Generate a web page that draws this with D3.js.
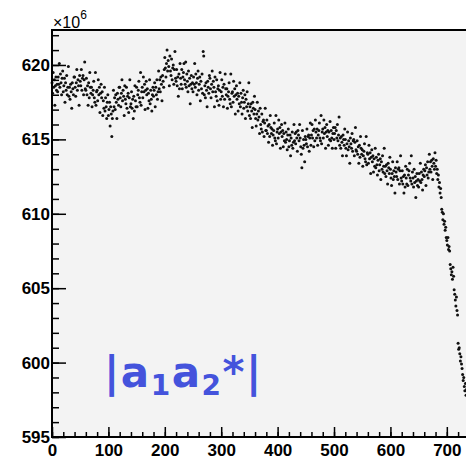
<!DOCTYPE html>
<html>
<head>
<meta charset="utf-8">
<script src="https://cdn.jsdelivr.net/npm/d3@7"></script>
<style>
  html, body { margin: 0; padding: 0; background: #ffffff; overflow: hidden; }
  svg { display: block; }
</style>
</head>
<body>
<script>
// ---- data (y in units of 10^6, one point per x = 0,1,2,...) ----
const yValues = [
  618.8,618.1,619.5,618.5,619.0,617.3,618.6,619.2,618.3,618.7, 618.2,619.2,618.7,620.1,618.5,619.4,618.8,618.0,619.1,619.6,
  618.2,618.6,619.1,617.5,618.8,618.3,619.3,618.0,618.5,619.9, 617.9,618.5,617.7,618.7,618.2,617.1,618.8,618.4,618.0,619.2,
  619.2,618.5,617.9,618.8,619.7,618.3,619.0,618.6,617.3,619.3, 618.9,618.6,619.7,618.3,619.1,619.3,618.0,619.0,620.2,618.4,
  618.3,619.1,618.0,618.6,617.3,618.8,617.8,619.5,618.5,618.1, 618.5,617.2,618.0,618.3,618.9,617.8,617.5,619.5,617.3,618.2,
  618.3,617.6,619.0,618.0,618.5,616.8,618.1,618.7,617.8,618.2, 616.6,617.6,617.1,618.5,616.9,617.8,617.2,616.4,617.5,618.0,
  616.6,617.0,617.5,615.9,617.2,616.7,615.2,616.4,616.9,618.3, 617.2,617.8,617.0,618.0,617.5,616.4,618.1,617.7,617.3,618.5,
  618.5,617.8,617.2,618.1,619.0,617.6,618.3,617.9,616.6,618.6, 617.7,617.4,618.5,617.1,617.9,618.1,616.8,617.8,619.0,617.2,
  617.4,618.2,617.1,617.7,616.4,617.9,616.9,618.6,617.6,617.2, 618.5,617.2,618.0,618.3,618.9,617.8,617.5,619.5,617.3,618.2,
  618.5,617.8,619.2,618.2,618.7,617.0,618.3,618.9,618.0,618.4, 617.1,618.1,617.6,619.0,617.4,618.3,617.7,616.9,618.0,618.5,
  617.9,618.3,618.8,617.2,618.5,618.0,619.0,617.7,618.2,619.6, 618.4,619.0,618.2,619.2,618.7,617.6,619.3,618.9,618.5,619.7,
  620.5,619.8,619.2,620.1,621.0,619.6,620.3,619.9,618.6,620.6, 619.6,619.3,620.4,619.0,619.8,620.0,618.7,619.7,620.9,619.1,
  618.9,619.7,618.6,619.2,617.9,619.4,618.4,620.1,619.1,618.7, 619.7,618.4,619.2,619.5,620.1,619.0,618.7,620.2,618.5,619.4,
  618.9,618.2,619.6,618.6,619.1,617.4,618.7,619.3,618.4,618.8, 618.2,619.2,618.7,620.1,618.5,619.4,618.8,618.0,619.1,619.6,
  618.3,618.7,619.2,617.6,618.9,618.4,619.4,618.1,620.9,620.6, 618.0,618.6,617.8,618.8,618.3,617.2,618.9,618.5,618.1,619.3,
  619.1,618.4,617.8,618.7,619.6,618.2,618.9,618.5,617.2,619.2, 618.2,617.9,619.0,617.6,618.4,618.6,617.3,618.3,619.5,617.7,
  618.2,619.0,617.9,618.5,617.2,618.7,617.7,619.4,618.4,618.0, 618.4,617.1,617.9,618.2,618.8,617.7,617.4,619.4,617.2,618.1,
  618.2,617.5,618.9,617.9,618.4,616.7,618.0,618.6,617.7,618.1, 616.9,617.9,617.4,618.8,617.2,618.1,617.5,616.7,617.8,618.3,
  617.1,617.5,618.0,616.4,617.7,617.2,618.2,616.9,617.4,618.8, 616.6,617.2,616.4,617.4,616.9,615.8,617.5,617.1,616.7,617.9,
  617.0,616.4,615.9,616.7,617.5,616.3,616.9,616.5,615.4,617.1, 616.0,615.7,616.7,615.5,616.2,616.3,615.2,616.1,617.1,615.6,
  615.6,616.3,615.4,615.9,614.8,616.0,615.2,616.6,615.8,615.4, 615.7,614.6,615.3,615.6,616.1,615.1,614.9,616.6,614.7,615.5,
  615.7,615.1,616.3,615.4,615.8,614.4,615.5,616.0,615.2,615.6, 614.5,615.4,614.9,616.1,614.8,615.5,615.0,614.3,615.3,615.7,
  614.5,614.9,615.3,613.9,615.1,614.6,615.5,614.4,614.8,616.0, 614.9,615.4,614.7,615.5,615.1,614.2,615.6,615.3,614.9,616.0,
  615.1,614.5,614.0,613.1,615.6,614.4,615.0,614.6,613.5,615.2, 615.0,614.7,615.7,614.5,615.2,615.3,614.2,615.1,616.1,614.6,
  615.3,616.0,615.1,615.6,614.5,615.7,614.9,616.3,615.5,615.1, 615.7,614.6,615.3,615.6,616.1,615.1,614.9,616.6,614.7,615.5,
  615.7,615.1,616.3,615.4,615.8,614.4,615.5,616.0,615.2,615.6, 614.6,615.5,615.0,616.2,614.9,615.6,615.1,614.4,615.4,615.8,
  615.0,615.4,615.8,614.4,615.6,615.1,616.0,614.9,615.3,616.5, 614.6,615.1,614.4,615.2,614.8,613.9,615.3,615.0,614.6,615.7,
  615.0,614.4,613.9,614.7,615.5,614.3,614.9,614.5,613.4,615.1, 614.7,614.4,615.4,614.2,614.9,615.0,613.9,614.8,615.8,614.3,
  614.2,614.9,614.0,614.5,613.4,614.6,613.8,615.2,614.4,614.0, 614.3,613.2,613.9,614.2,614.7,613.7,613.5,615.2,613.3,614.1,
  614.0,613.4,614.6,613.7,614.1,612.7,613.8,614.3,613.5,613.9, 612.8,613.7,613.2,614.4,613.1,613.8,613.3,612.6,613.6,614.0,
  612.9,613.3,613.7,612.3,613.5,613.0,613.9,612.8,613.2,614.4, 612.7,613.2,612.5,613.3,612.9,612.0,613.4,613.1,612.7,613.8,
  613.0,612.4,611.9,612.7,613.5,612.3,612.9,612.5,611.4,613.1, 612.8,612.5,613.5,612.3,613.0,613.1,612.0,612.9,613.9,612.4,
  612.2,612.9,612.0,612.5,611.4,612.6,611.8,613.2,612.4,612.0, 613.0,611.9,612.6,612.9,613.4,612.4,612.2,613.9,612.0,612.8,
  612.4,611.8,613.0,612.1,612.5,611.1,612.2,612.7,611.9,612.3, 611.8,612.7,612.2,613.4,612.1,612.8,612.3,611.6,612.6,613.0,
  612.5,612.9,613.3,611.9,613.1,612.6,613.5,612.4,612.8,614.0, 613.0,613.5,612.8,613.6,613.2,612.3,613.7,613.4,613.0,614.1,
  613.2,613.6,612.7,613.0,612.3,612.6,611.8,612.1,611.4,611.7, 611.1,610.3,610.1,609.6,610.0,609.3,609.5,608.9,609.1,608.4,
  608.2,607.9,608.4,607.6,607.8,607.5,606.6,606.3,605.9,606.1, 605.6,606.4,605.8,604.9,604.6,604.2,603.8,604.4,603.5,603.2,
  601.3,600.9,601.0,600.6,600.1,600.4,599.9,599.6,599.2,598.8, 599.0,598.4,598.1,598.6,597.8,598.2
];
const xMajorTicks = [0, 100, 200, 300, 400, 500, 600, 700];
const yMajorTicks = [595, 600, 605, 610, 615, 620];
const xDomain = [0, 734];
const yDomain = [595, 622.35];
const exponentLabel = "\u00d710";
const exponentPower = "6";
const annotation = ["|a", "1", "a", "2", "*|"];

// ---- layout ----
const W = 466, H = 459;
const L = 52, T = 30, B = 437, R = 466;

const svg = d3.select("body").append("svg").attr("width", W).attr("height", H);

const x = d3.scaleLinear().domain(xDomain).range([L, R]);
const y = d3.scaleLinear().domain(yDomain).range([B, T]);

// plot background
svg.append("rect").attr("x", L).attr("y", T).attr("width", R - L).attr("height", B - T)
  .attr("fill", "#f3f3f3");

// points
svg.append("g").selectAll("circle").data(yValues).join("circle")
  .attr("cx", (d, i) => x(i))
  .attr("cy", d => y(d))
  .attr("r", 1.5)
  .attr("fill", "#111");

const fontFam = "'Liberation Sans', Arial, Helvetica, sans-serif";

// x axis minor
const xMinor = d3.range(0, 760, 20).filter(v => v <= xDomain[1]);
svg.append("g").attr("transform", `translate(0,${B})`)
  .call(d3.axisBottom(x).tickValues(xMinor).tickSize(-5).tickFormat(""))
  .call(g => g.select(".domain").remove())
  .call(g => g.selectAll("line").attr("stroke", "#000").attr("stroke-width", 1.5));
// x axis major
svg.append("g").attr("transform", `translate(0,${B})`)
  .call(d3.axisBottom(x).tickValues(xMajorTicks).tickSize(-10).tickPadding(7).tickFormat(d3.format("d")))
  .call(g => g.select(".domain").remove())
  .call(g => g.selectAll("line").attr("stroke", "#000").attr("stroke-width", 1.5))
  .call(g => g.selectAll("text").attr("font-family", fontFam).attr("font-size", 17)
    .attr("font-weight", "bold").attr("fill", "#000"));

// y axis minor
const yMinor = d3.range(595, 623, 1);
svg.append("g").attr("transform", `translate(${L},0)`)
  .call(d3.axisLeft(y).tickValues(yMinor).tickSize(-7).tickFormat(""))
  .call(g => g.select(".domain").remove())
  .call(g => g.selectAll("line").attr("stroke", "#000").attr("stroke-width", 1.5));
// y axis major
svg.append("g").attr("transform", `translate(${L},0)`)
  .call(d3.axisLeft(y).tickValues(yMajorTicks).tickSize(-14).tickPadding(2).tickFormat(d3.format("d")))
  .call(g => g.select(".domain").remove())
  .call(g => g.selectAll("line").attr("stroke", "#000").attr("stroke-width", 1.5))
  .call(g => g.selectAll("text").attr("font-family", fontFam).attr("font-size", 17)
    .attr("font-weight", "bold").attr("fill", "#000"));

// frame lines
svg.append("line").attr("x1", L).attr("x2", L).attr("y1", T - 1).attr("y2", B + 1)
  .attr("stroke", "#000").attr("stroke-width", 2);
svg.append("line").attr("x1", L - 1).attr("x2", R).attr("y1", B).attr("y2", B)
  .attr("stroke", "#000").attr("stroke-width", 2);
svg.append("line").attr("x1", L - 1).attr("x2", R).attr("y1", T).attr("y2", T)
  .attr("stroke", "#000").attr("stroke-width", 2);

// exponent label
const ex = svg.append("text").attr("x", L + 1).attr("y", 28)
  .attr("font-family", fontFam).attr("font-size", 16).attr("fill", "#000");
ex.append("tspan").text(exponentLabel);
ex.append("tspan").attr("dy", -9).attr("font-size", 12).text(exponentPower);

// annotation |a1a2*|
const an = svg.append("text").attr("x", 104).attr("y", 387)
  .attr("font-family", "'DejaVu Sans', sans-serif").attr("font-weight", "bold")
  .attr("font-size", 42).attr("letter-spacing", 1.5).attr("fill", "#4453dc");
an.append("tspan").text(annotation[0]);
an.append("tspan").attr("font-size", 28).attr("dy", 8).text(annotation[1]);
an.append("tspan").attr("dy", -8).text(annotation[2]);
an.append("tspan").attr("font-size", 28).attr("dy", 8).text(annotation[3]);
an.append("tspan").attr("dy", -8).text(annotation[4]);
</script>
</body>
</html>
